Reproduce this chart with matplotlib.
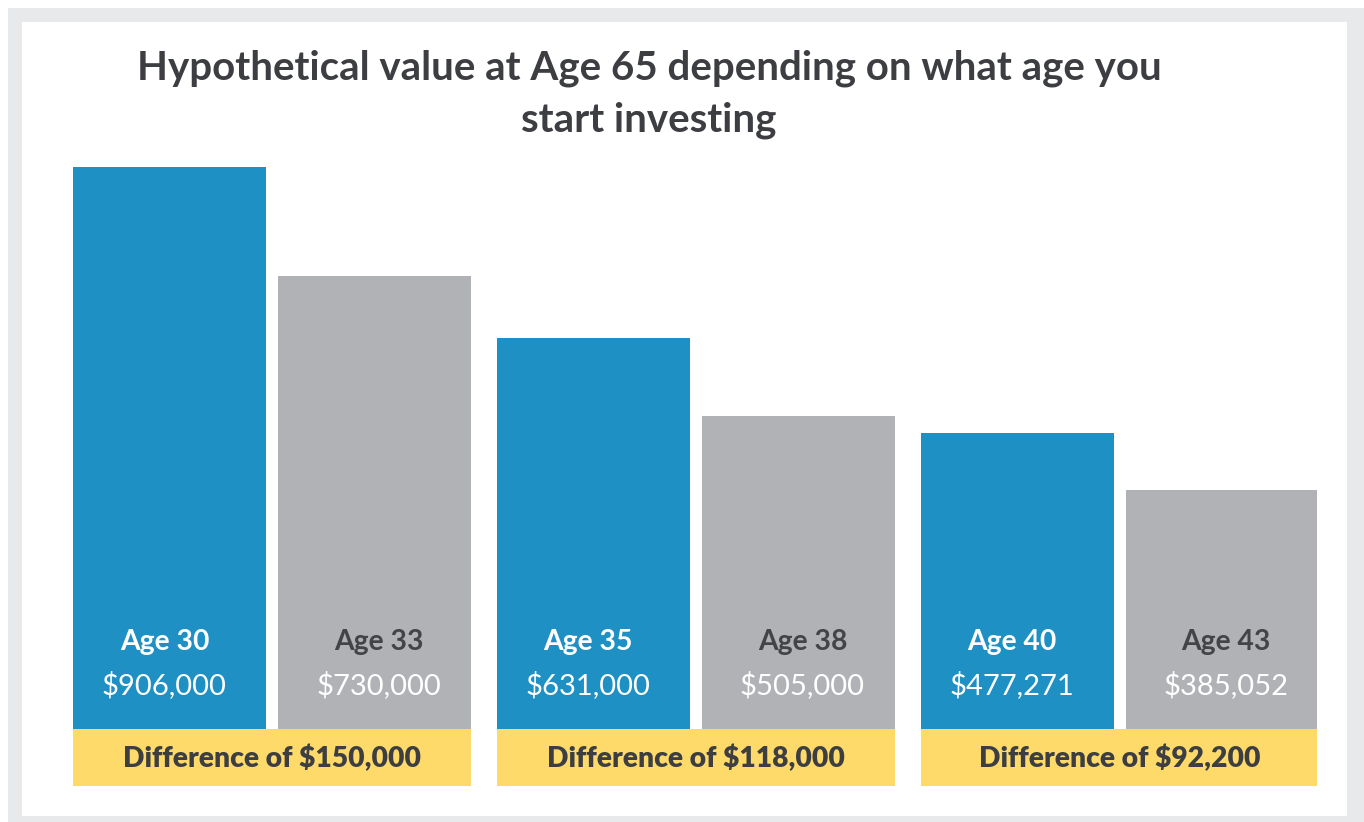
import matplotlib
matplotlib.use("Agg")
import matplotlib.pyplot as plt
from matplotlib.patches import Rectangle

# ---- data ----
ages = ["Age 30", "Age 33", "Age 35", "Age 38", "Age 40", "Age 43"]
values = [906000, 730000, 631000, 505000, 477271, 385052]
value_labels = ["$906,000", "$730,000", "$631,000", "$505,000", "$477,271", "$385,052"]
differences = ["Difference of $150,000", "Difference of $118,000", "Difference of $92,200"]
title_lines = ["Hypothetical value at Age 65 depending on what age you", "start investing"]

# ---- style ----
BLUE = "#1E90C4"
GREY = "#B1B2B6"
YELLOW = "#FEDA6A"
DARK = "#3C3E42"
FRAME = "#E8E9EB"
FONT = "Lato"

W, H = 1364, 822
fig = plt.figure(figsize=(W / 100, H / 100), dpi=100)
fig.patch.set_facecolor("white")

def fx(px):
    return px / W

def fy(py):
    return 1 - py / H

# frame
fig.add_artist(Rectangle((fx(8), fy(822)), fx(1364) - fx(8), fy(8) - fy(822),
                         transform=fig.transFigure, facecolor=FRAME, edgecolor="none", zorder=0))
fig.add_artist(Rectangle((fx(22), fy(816)), fx(1347) - fx(22), fy(22) - fy(816),
                         transform=fig.transFigure, facecolor="white", edgecolor="none", zorder=0))

# axes
ax = fig.add_axes([fx(73), fy(786), fx(1317) - fx(73), fy(167) - fy(786)])
ax.set_facecolor("none")
band_h = 92000
ax.set_xlim(0, 6.068)
ax.set_ylim(-band_h, max(values))
ax.axis("off")

group_pitch = 2.067
bar_w = 0.941
n_groups = len(differences)
for g in range(n_groups):
    center = 0.971 + g * group_pitch
    # yellow band
    ax.bar(center, band_h, width=2 * 0.5 + bar_w, bottom=-band_h, color=YELLOW, linewidth=0)
    ax.text(center, -band_h / 2 - 2000, differences[g], ha="center", va="center",
            fontsize=20.3, fontweight="heavy", color=DARK, family=FONT)
    for k in range(2):
        i = 2 * g + k
        x = center - 0.5 + k
        col = BLUE if k == 0 else GREY
        shift = -0.025 if k == 0 else 0.02
        ax.bar(x, values[i], width=bar_w, bottom=0, color=col, linewidth=0)
        ax.text(x + shift, 140000, ages[i], ha="center", va="center", fontsize=20.3,
                fontweight="bold", color="white" if k == 0 else "#434448", family=FONT)
        ax.text(x + shift, 71000, value_labels[i], ha="center", va="center", fontsize=21,
                color="white", family=FONT)

for line, py in zip(title_lines, [68, 120]):
    fig.text(fx(649), fy(py), line, ha="center", va="center", fontsize=29,
             fontweight="bold", color=DARK, family=FONT)

fig.savefig("out.png", dpi=100, facecolor="white")
